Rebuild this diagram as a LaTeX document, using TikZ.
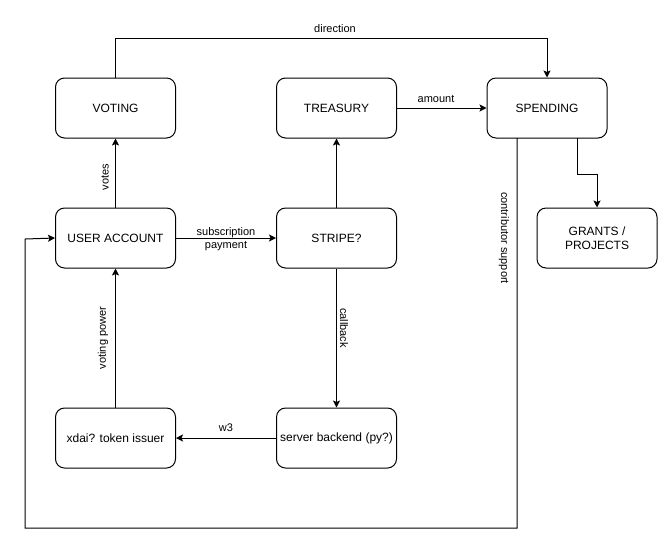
\documentclass[tikz,border=0pt]{standalone}
\usepackage{fontspec}
\setmainfont{Liberation Sans}
\usetikzlibrary{arrows.meta}
\begin{document}
\begin{tikzpicture}[x=1pt,y=-1pt,
  box/.style={draw,line width=1pt,rounded corners=9pt,minimum width=120pt,minimum height=60pt,inner sep=1pt,align=center,font=\fontsize{12}{14}\selectfont},
  conn/.style={line width=1pt,-{Stealth[length=7pt,width=7pt,inset=1.5pt]}},
  lbl/.style={font=\fontsize{11}{13}\selectfont,inner sep=0pt,align=center}]
\useasboundingbox (0,0) rectangle (668,550);
\node[box] (voting) at (115.5,108) {VOTING};
\node[box] (treasury) at (336.5,108) {TREASURY};
\node[box] (spending) at (547,108) {SPENDING};
\node[box] (user) at (115.5,238) {USER ACCOUNT};
\node[box] (stripe) at (336.5,238) {STRIPE?};
\node[box] (grants) at (597,238) {GRANTS /\\PROJECTS};
\node[box] (xdai) at (115.5,438) {xdai? token issuer};
\node[box] (server) at (336.5,438) {server backend (py?)};
% voting -> spending
\draw[conn] (voting.north) -- (115.5,38) -- (547,38) -- (spending.north);
\node[lbl] (ldir) at (335,29) {direction};
% treasury -> spending
\draw[conn] (treasury.east) -- (spending.west);
\node[lbl] (lamt) at (436,99) {amount};
% user -> voting
\draw[conn] (user.north) -- (voting.south);
\node[lbl,rotate=90] (lvotes) at (105,177) {votes};
% user -> stripe
\draw[conn] (user.east) -- (stripe.west);
\node[lbl] (lsub) at (226,239) {subscription\\payment};
% stripe -> treasury
\draw[conn] (stripe.north) -- (treasury.south);
% stripe -> server
\draw[conn] (stripe.south) -- (server.north);
\node[lbl,rotate=-90] (lcb) at (344,328) {callback};
% server -> xdai
\draw[conn] (server.west) -- (xdai.east);
\node[lbl] (lw3) at (226,428) {w3};
% xdai -> user
\draw[conn] (xdai.north) -- (user.south);
\node[lbl,rotate=90] (lvp) at (103,338) {voting power};
% spending -> grants
\coordinate (sg) at (577,138);
\draw[conn] (sg) -- (577,174) -- (597,174) -- (grants.north);
% spending -> user (contributor support)
\coordinate (sc) at (517,138);
\draw[conn] (sc) -- (517,528) -- (25,528) -- (25,239) -- (user.west);
\node[lbl,rotate=-90] (lcs) at (504,238) {contributor support};
\end{tikzpicture}
\end{document}
